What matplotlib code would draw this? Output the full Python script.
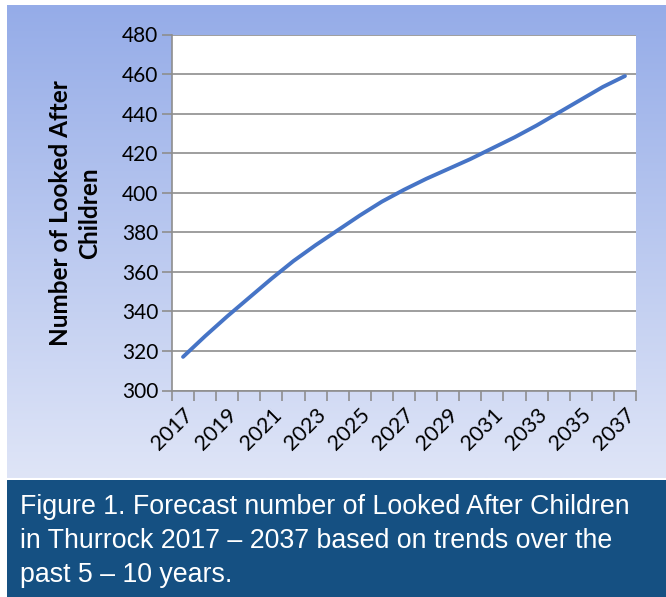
import numpy as np
import matplotlib.pyplot as plt
from matplotlib.patches import Rectangle

# data
years = [str(y) for y in range(2017, 2038)]
lac_forecast = [317, 327.5, 337.5, 347, 356.5, 365.5, 373.5, 381, 388.5, 395.5, 401.5,
                407, 412, 417, 422.5, 428, 434, 440.5, 447, 453.5, 459]
y_ticks = [300, 320, 340, 360, 380, 400, 420, 440, 460, 480]

W, H = 666, 597
fig = plt.figure(figsize=(W / 100, H / 100), dpi=100)

def box(x0, y0, x1, y1):
    # pixel box (top-left origin) -> figure fraction rect
    return [x0 / W, 1 - y1 / H, (x1 - x0) / W, (y1 - y0) / H]

# gradient panel behind the chart
bg = fig.add_axes(box(7, 5, 666, 478))
top = np.array([149, 172, 232]) / 255
bot = np.array([223, 229, 247]) / 255
t = np.linspace(0, 1, 256)[:, None]
grad = (top * (1 - t) + bot * t)[:, None, :]
bg.imshow(grad, aspect='auto', extent=[0, 1, 0, 1])
bg.set_axis_off()

# caption band
cap = fig.add_axes(box(7, 480, 666, 597))
cap.add_patch(Rectangle((0, 0), 1, 1, color='#155082'))
cap.set_xlim(0, 1)
cap.set_ylim(0, 1)
cap.set_axis_off()
caption = ["Figure 1. Forecast number of Looked After Children",
           "in Thurrock 2017 \u2013 2037 based on trends over the",
           "past 5 \u2013 10 years."]
for k, line in enumerate(caption):
    fig.text(20 / W, 1 - (507 + 34 * k) / H, line, color='white',
             family='Liberation Sans', fontsize=19.3, va='center', ha='left')

# main chart
ax = fig.add_axes(box(172, 34.5, 636, 390.5))
ax.set_facecolor('white')
x = np.arange(len(years))
ax.plot(x, lac_forecast, color='#4674C6', lw=2.8, solid_capstyle='round', zorder=3)

ax.set_xlim(-0.5, len(years) - 0.5)
ax.set_ylim(300, 480)
ax.set_yticks(y_ticks)
ax.set_yticklabels([str(v) for v in y_ticks], family='Lato', fontsize=15)
ax.grid(axis='y', color='#8E8E8E', lw=1.2)
ax.set_axisbelow(True)

ax.set_xticks(np.arange(-0.5, len(years), 1.0))
ax.set_xticklabels([])
ax.set_xticks(x[::2], minor=True)
ax.set_xticklabels(years[::2], minor=True, rotation=45, ha='right', va='top',
                   rotation_mode='anchor', family='Lato', fontsize=15.5)
ax.tick_params(axis='x', which='minor', length=0, pad=10)
ax.tick_params(axis='both', which='major', length=7, width=1.2, color='#8E8E8E')
ax.tick_params(axis='y', pad=3)

for s in ['top', 'right']:
    ax.spines[s].set_visible(False)
for s in ['left', 'bottom']:
    ax.spines[s].set_color('#8E8E8E')
    ax.spines[s].set_linewidth(1.2)

fig.text(75 / W, 1 - 213 / H, "Number of Looked After\nChildren", rotation=90,
         ha='center', va='center', multialignment='center', family='Lato',
         fontweight='bold', fontsize=17.5, linespacing=1.3)

fig.savefig('out.png', dpi=100)
